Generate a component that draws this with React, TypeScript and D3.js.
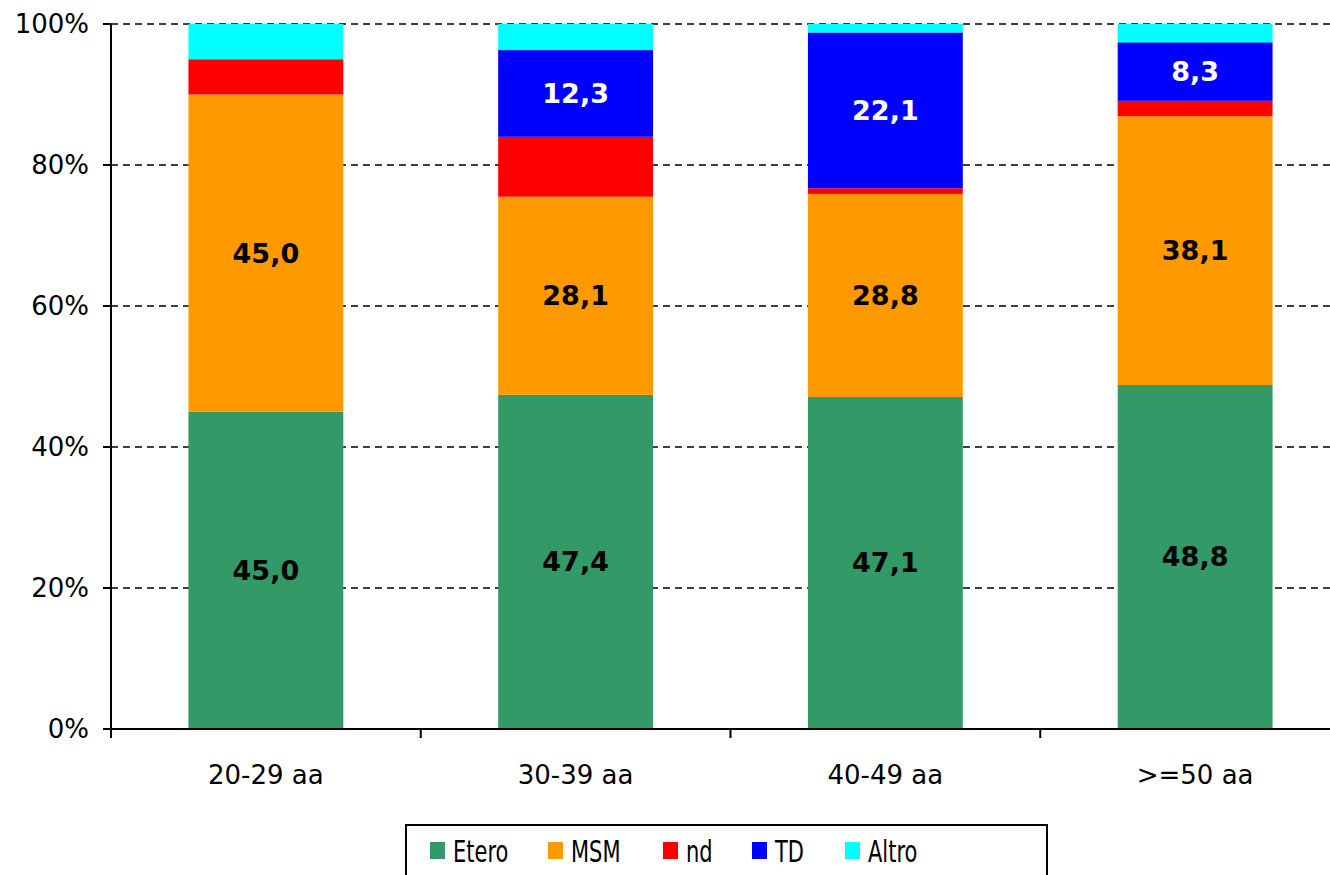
import React from 'react';
import * as d3 from 'd3';

const categories = ['20-29 aa', '30-39 aa', '40-49 aa', '>=50 aa'];
const seriesNames = ['Etero', 'MSM', 'nd', 'TD', 'Altro'];
const etero = [45.0, 47.4, 47.1, 48.8];
const msm = [45.0, 28.1, 28.8, 38.1];
const nd = [5.0, 8.5, 0.8, 2.2];
const td = [0, 12.3, 22.1, 8.3];
const altro = [5.0, 3.7, 1.2, 2.6];
const yTicks = [0, 20, 40, 60, 80, 100];

const colors = ['#339966', '#FF9900', '#FF0000', '#0000FF', '#00FFFF'];
// which series get a value label, and in what colour
const labelColors: (string | null)[] = ['#000', '#000', null, '#fff', null];

const W = 1330;
const H = 875;
const font = '"DejaVu Sans", Verdana, sans-serif';

export default function App() {
  const values = [etero, msm, nd, td, altro];
  const rows = categories.map((c, i) => {
    const row: any = { cat: c };
    seriesNames.forEach((s, k) => (row[s] = values[k][i]));
    return row;
  });
  const stacked = d3.stack().keys(seriesNames)(rows);

  const x = d3.scaleBand().domain(categories).range([111, 1350]).paddingInner(0.5).paddingOuter(0.25);
  const y = d3.scaleLinear().domain([0, 100]).range([729, 24]);
  const step = x.step();
  const bounds = categories.map((_, i) => 111 + i * step);
  const legendX = [430, 548, 663, 752, 845];

  return (
    <svg width={W} height={H} style={{ position: 'absolute', left: 0, top: 0, background: '#fff' }} fontFamily={font}>
      {/* gridlines */}
      {yTicks.slice(1).map(t => (
        <line key={t} x1={111} x2={W} y1={y(t)} y2={y(t)} stroke="#000" strokeWidth={1.5} strokeDasharray="7,5" />
      ))}
      {/* bars */}
      {stacked.map((layer, k) => (
        <g key={layer.key} fill={colors[k]}>
          {layer.map((d, i) => (
            d[1] - d[0] > 0 ? (
              <rect key={i} x={x(categories[i])} width={x.bandwidth()} y={y(d[1])} height={y(d[0]) - y(d[1])} />
            ) : null
          ))}
        </g>
      ))}
      {/* labels */}
      {stacked.map((layer, k) =>
        labelColors[k]
          ? layer.map((d, i) =>
              d[1] - d[0] > 0 ? (
                <text key={layer.key + i} x={(x(categories[i]) as number) + x.bandwidth() / 2} y={(y(d[0]) + y(d[1])) / 2}
                  textAnchor="middle" dominantBaseline="central" fontSize={27} fontWeight="bold" fill={labelColors[k] as string}>
                  {d3.format('.1f')(d[1] - d[0]).replace('.', ',')}
                </text>
              ) : null
            )
          : null
      )}
      {/* y axis */}
      <line x1={111} x2={111} y1={y(100)} y2={y(0)} stroke="#000" strokeWidth={2} />
      {yTicks.map(t => (
        <g key={t}>
          <line x1={103} x2={111} y1={y(t)} y2={y(t)} stroke="#000" strokeWidth={2} />
          <text x={89} y={y(t)} textAnchor="end" dominantBaseline="central" fontSize={26}>{t}%</text>
        </g>
      ))}
      {/* x axis */}
      <line x1={111} x2={W} y1={y(0)} y2={y(0)} stroke="#000" strokeWidth={2} />
      {bounds.map(b => (
        <line key={b} x1={b} x2={b} y1={y(0)} y2={y(0) + 9} stroke="#000" strokeWidth={2} />
      ))}
      {categories.map(c => (
        <text key={c} x={(x(c) as number) + x.bandwidth() / 2} y={784} textAnchor="middle" fontSize={26}>{c}</text>
      ))}
      {/* legend */}
      <rect x={406} y={825} width={641} height={60} fill="#fff" stroke="#000" strokeWidth={2} />
      {seriesNames.map((s, k) => (
        <g key={s}>
          <rect x={legendX[k]} y={842} width={15} height={17} fill={colors[k]} />
          <text transform={`translate(${legendX[k] + 23},852) scale(0.7,1)`} dominantBaseline="central" fontSize={30}>{s}</text>
        </g>
      ))}
    </svg>
  );
}
